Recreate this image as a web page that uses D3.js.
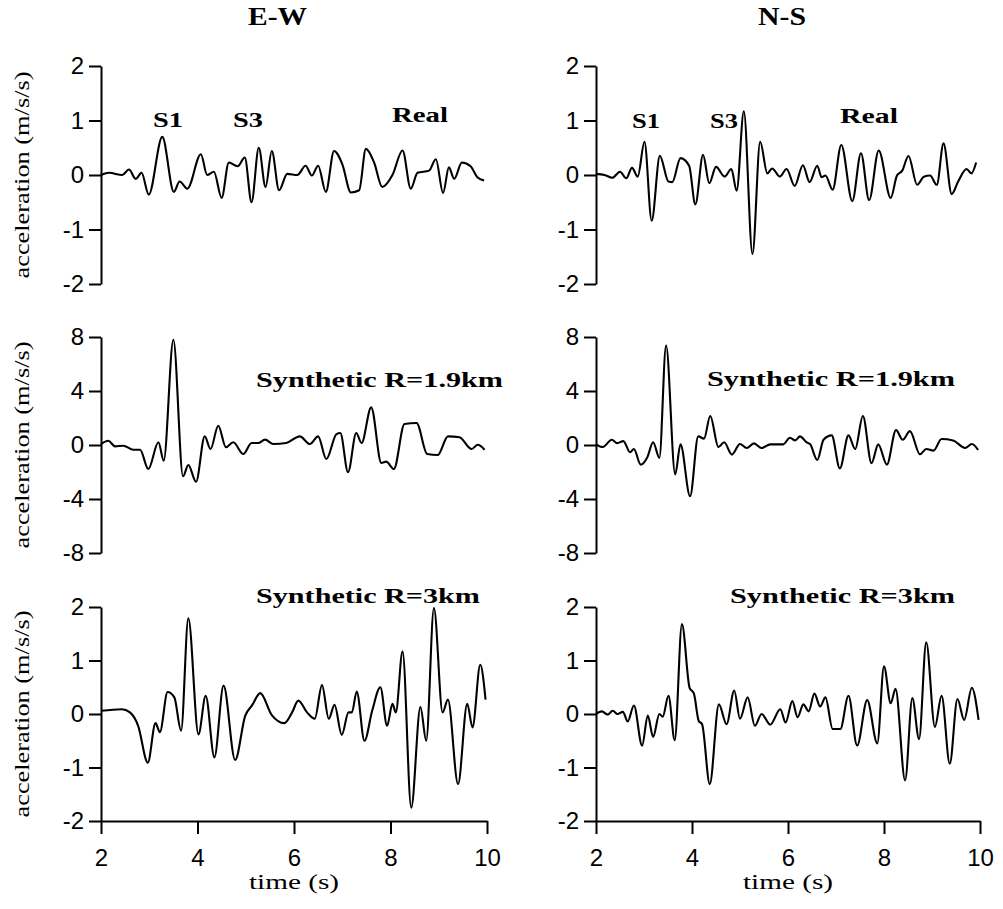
<!DOCTYPE html>
<html lang="en">
<head>
<meta charset="UTF-8">
<script src="https://cdn.jsdelivr.net/npm/d3@7"></script>
<title>acceleration</title>
<style>
    body { margin: 0; background: #fff; }
    .trace { fill: none; stroke: #000; stroke-width: 2.1; stroke-linejoin: round; }
    .axis path, .axis line { stroke: #000; stroke-width: 2; }
    .axis text { font-family: "Liberation Sans", Arial, sans-serif; font-size: 24px; fill: #000; }
    .note { font-family: "Liberation Serif", serif; font-weight: bold; font-size: 22px; }
    .title { font-family: "Liberation Serif", serif; font-weight: bold; font-size: 25px; }
    .lab { font-family: "Liberation Serif", serif; font-size: 21px; }
</style>
</head>
<body>
<script>
    // values: [time (s), acceleration (m/s/s)]
    var ewReal = [[2.0,0],[2.17,0.04],[2.44,0],[2.58,0.1],[2.72,-0.07],[2.84,0.04],[2.99,-0.36],[3.27,0.7],[3.51,-0.31],[3.63,-0.12],[3.79,-0.25],[4.07,0.38],[4.2,0],[4.34,0.06],[4.5,-0.42],[4.65,0.23],[4.83,0.16],[4.98,0.32],[5.12,-0.5],[5.27,0.5],[5.41,-0.22],[5.54,0.44],[5.69,-0.28],[5.86,0.02],[6.07,0],[6.24,0.17],[6.37,-0.01],[6.5,0.17],[6.66,-0.31],[6.83,0.44],[7.0,0.2],[7.18,-0.32],[7.35,-0.28],[7.49,0.48],[7.66,0.23],[7.83,-0.22],[8.04,0],[8.25,0.45],[8.42,-0.25],[8.56,0.04],[8.8,0.08],[8.94,0.29],[9.09,-0.33],[9.21,0.14],[9.32,-0.07],[9.48,0.23],[9.66,0.16],[9.8,-0.04],[9.94,-0.1]];
    var nsReal = [[2.0,0.02],[2.18,0],[2.34,-0.05],[2.5,0.06],[2.63,-0.06],[2.75,0.13],[2.87,-0.03],[3.01,0.61],[3.16,-0.84],[3.33,0.35],[3.51,-0.12],[3.59,-0.13],[3.76,0.31],[3.94,0.17],[4.07,-0.54],[4.23,0.37],[4.36,-0.15],[4.5,0.15],[4.68,-0.03],[4.82,0.11],[4.93,-0.29],[5.08,1.17],[5.26,-1.45],[5.42,0.61],[5.57,0.03],[5.67,0.12],[5.83,-0.03],[5.97,0.11],[6.14,-0.2],[6.31,0.18],[6.45,-0.13],[6.61,0.17],[6.7,-0.04],[6.78,-0.01],[6.93,-0.27],[7.11,0.55],[7.34,-0.48],[7.52,0.4],[7.69,-0.46],[7.89,0.45],[8.14,-0.42],[8.27,-0.01],[8.38,0.08],[8.51,0.35],[8.69,-0.18],[8.83,-0.03],[8.96,-0.01],[9.1,-0.18],[9.24,0.58],[9.41,-0.35],[9.55,-0.11],[9.72,0.11],[9.82,0.03],[9.92,0.23]];
    var ewSyn19 = [[2.0,0.07],[2.15,0.32],[2.29,-0.1],[2.46,-0.05],[2.67,-0.35],[2.81,-0.35],[2.98,-1.78],[3.19,0.2],[3.3,-1.16],[3.5,7.8],[3.7,-2.32],[3.81,-1.48],[3.97,-2.72],[4.15,0.64],[4.27,-0.3],[4.43,1.43],[4.59,-0.17],[4.74,0.2],[4.95,-0.67],[5.12,0.15],[5.26,0.15],[5.4,0.4],[5.57,0.07],[5.84,0.15],[6.12,0.64],[6.33,0.07],[6.5,0.64],[6.67,-1.04],[6.88,0.81],[6.96,0.89],[7.12,-2.02],[7.29,0.89],[7.4,0.15],[7.6,2.79],[7.81,-1.33],[7.91,-1.23],[8.07,-1.78],[8.29,1.56],[8.54,1.63],[8.76,-0.67],[8.98,-0.74],[9.19,0.64],[9.43,0.57],[9.68,-0.3],[9.81,0.02],[9.95,-0.35]];
    var nsSyn19 = [[2.0,0.05],[2.14,-0.15],[2.33,0.39],[2.44,0.14],[2.57,0.29],[2.71,-0.54],[2.79,-0.3],[2.93,-1.45],[3.07,-0.9],[3.19,0.2],[3.32,-0.95],[3.46,7.37],[3.65,-2.18],[3.76,0.05],[3.96,-3.8],[4.13,0.64],[4.25,0.47],[4.38,2.15],[4.55,-0.15],[4.67,0.2],[4.83,-0.71],[5.0,0.07],[5.14,-0.22],[5.29,0.12],[5.45,-0.22],[5.63,0.05],[5.9,0.05],[6.04,0.54],[6.15,0.34],[6.25,0.64],[6.39,0.2],[6.46,0.07],[6.61,-1.11],[6.74,0.39],[6.91,0.71],[7.08,-1.74],[7.26,0.71],[7.4,-0.3],[7.56,2.15],[7.74,-1.35],[7.88,0.05],[8.06,-1.45],[8.25,1.1],[8.39,0.39],[8.54,1.03],[8.75,-0.69],[8.88,-0.3],[9.03,-0.42],[9.2,0.44],[9.44,0.34],[9.69,-0.22],[9.83,0.07],[9.96,-0.37]];
    var ewSyn3 = [[2.0,0.06],[2.43,0.09],[2.6,0.03],[2.77,-0.22],[2.97,-0.91],[3.13,-0.17],[3.22,-0.34],[3.38,0.41],[3.52,0.31],[3.66,-0.31],[3.81,1.79],[4.02,-0.38],[4.17,0.34],[4.35,-0.81],[4.54,0.53],[4.78,-0.86],[4.99,-0.03],[5.13,0.16],[5.3,0.39],[5.54,-0.02],[5.8,-0.17],[5.96,0.03],[6.09,0.25],[6.27,0.03],[6.43,-0.09],[6.58,0.54],[6.72,-0.09],[6.84,0.17],[6.99,-0.39],[7.13,0.03],[7.2,0.03],[7.3,0.42],[7.46,-0.5],[7.62,0.06],[7.79,0.5],[7.93,-0.22],[8.04,0.19],[8.11,0.03],[8.25,1.17],[8.43,-1.75],[8.62,0.13],[8.74,-0.5],[8.9,1.98],[9.08,0.03],[9.19,0.27],[9.4,-1.31],[9.59,0.19],[9.7,-0.25],[9.86,0.92],[9.97,0.27]];
    var nsSyn3 = [[2.0,0],[2.12,0.05],[2.24,-0.01],[2.35,0.06],[2.45,0],[2.56,0.04],[2.66,-0.14],[2.79,0.16],[2.96,-0.59],[3.08,-0.03],[3.19,-0.43],[3.32,0],[3.39,-0.05],[3.51,0.34],[3.64,-0.49],[3.79,1.68],[3.95,0.49],[4.04,0.38],[4.14,-0.13],[4.21,-0.19],[4.37,-1.31],[4.56,0.18],[4.72,-0.19],[4.88,0.44],[5.0,-0.09],[5.16,0.31],[5.31,-0.22],[5.45,0],[5.63,-0.2],[5.84,0.09],[5.95,-0.16],[6.09,0.24],[6.2,-0.06],[6.32,0.18],[6.43,0.05],[6.55,0.38],[6.67,0.14],[6.78,0.31],[6.93,-0.28],[7.09,-0.28],[7.26,0.34],[7.44,-0.59],[7.65,0.26],[7.86,-0.55],[8.0,0.89],[8.14,0.2],[8.24,0.47],[8.44,-1.24],[8.59,0.3],[8.73,-0.47],[8.88,1.34],[9.06,-0.24],[9.2,0.34],[9.37,-0.93],[9.53,0.28],[9.67,-0.11],[9.83,0.49],[9.97,-0.11]];

    var components = ["E-W", "N-S"];
    var timeTicks = [2, 4, 6, 8, 10];
    var accTicks = [-2, -1, 0, 1, 2];
    var accTicksSyn19 = [-8, -4, 0, 4, 8];

    var width = 1003, height = 909;
    var svg = d3.select("body").append("svg").attr("width", width).attr("height", height);
    svg.append("rect").attr("width", width).attr("height", height).attr("fill", "#fff");

    var xs = [d3.scaleLinear().domain([2, 10]).range([101, 487]),
              d3.scaleLinear().domain([2, 10]).range([596, 980])];

    var rows = [
        { ticks: accTicks, domain: [-2, 2], range: [284, 66], traces: [ewReal, nsReal] },
        { ticks: accTicksSyn19, domain: [-8, 8], range: [553, 337], traces: [ewSyn19, nsSyn19] },
        { ticks: accTicks, domain: [-2, 2], range: [821, 607], traces: [ewSyn3, nsSyn3] }
    ];

    rows.forEach(function(r, ri) {
        var y = d3.scaleLinear().domain(r.domain).range(r.range);
        xs.forEach(function(x, ci) {
            var line = d3.line()
                .x(function(d) { return x(d[0]); })
                .y(function(d) { return y(d[1]); })
                .curve(d3.curveMonotoneX);

            svg.append("g").attr("class", "axis")
                .attr("transform", "translate(" + x.range()[0] + ",0)")
                .call(d3.axisLeft(y).tickValues(r.ticks).tickSize(12).tickSizeOuter(0).tickPadding(5)
                    .tickFormat(function(d) { return String(d); }));

            if (ri == 2) {
                svg.append("g").attr("class", "axis")
                    .attr("transform", "translate(0," + y(-2) + ")")
                    .call(d3.axisBottom(x).tickValues(timeTicks).tickSize(13).tickSizeOuter(0).tickPadding(15));
            }

            svg.append("path").attr("class", "trace").datum(r.traces[ci]).attr("d", line);
        });

        // y label, left column only
        svg.append("text").attr("class", "lab")
            .attr("transform", "translate(29," + y(0) + ") rotate(-90)")
            .attr("text-anchor", "middle")
            .attr("textLength", 207).attr("lengthAdjust", "spacingAndGlyphs")
            .text("acceleration (m/s/s)");
    });

    // column titles and time labels
    components.forEach(function(c, ci) {
        var cx = d3.mean(xs[ci].range());
        svg.append("text").attr("class", "title")
            .attr("x", ci == 0 ? 248 : 758).attr("y", 25)
            .attr("textLength", ci == 0 ? 59 : 48).attr("lengthAdjust", "spacingAndGlyphs")
            .text(c);
        svg.append("text").attr("class", "lab")
            .attr("x", cx).attr("y", 889).attr("text-anchor", "middle")
            .attr("textLength", 90).attr("lengthAdjust", "spacingAndGlyphs")
            .text("time (s)");
    });

    // panel notes
    var notes = [
        ["S1", 153, 127, 30], ["S3", 233, 127, 30], ["Real", 392, 122, 56],
        ["S1", 632, 128, 28], ["S3", 710, 128, 28], ["Real", 840, 123, 58],
        ["Synthetic R=1.9km", 256, 387, 247], ["Synthetic R=1.9km", 707, 386, 248],
        ["Synthetic R=3km", 256, 603, 224], ["Synthetic R=3km", 730, 603, 225]
    ];
    notes.forEach(function(n) {
        svg.append("text").attr("class", "note")
            .attr("x", n[1]).attr("y", n[2])
            .attr("textLength", n[3]).attr("lengthAdjust", "spacingAndGlyphs")
            .text(n[0]);
    });
</script>
</body>
</html>
